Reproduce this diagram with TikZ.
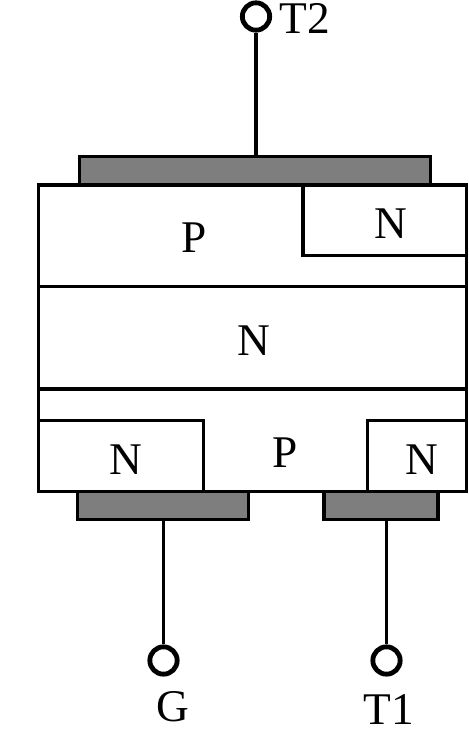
\documentclass[tikz,border=0pt]{standalone}
\usepackage{fontspec}
\setmainfont{Liberation Serif}
\definecolor{metal}{RGB}{126,126,126}
\tikzset{
  px/.style={x=0.75pt,y=-0.75pt},
  wire/.style={line width=2.7pt,draw=black},
  region/.style={line width=2.5pt,draw=black,line join=miter},
  metalbar/.style={line width=2.5pt,draw=black,fill=metal},
  term/.style={circle,draw=black,line width=3.6pt,fill=white,minimum size=20.5pt,inner sep=0pt},
  lab/.style={font=\fontsize{34pt}{34pt}\selectfont,inner sep=0pt,text=black}
}
\begin{document}
\begin{tikzpicture}[px]
\useasboundingbox (0,0) rectangle (468,742);
\draw[metalbar] (79.5,156.5) rectangle (430.5,185);
\draw[metalbar] (77.5,491.5) rectangle (248.5,519.5);
\draw[metalbar] (324,491.5) rectangle (438,519.5);
\draw[region] (38.5,185) rectangle (466.5,491.5);
\draw[region] (38.5,286.7) -- (466.5,286.7);
\draw[region] (38.5,389) -- (466.5,389);
\draw[region] (303,185) -- (303,255.7) -- (466.5,255.7);
\draw[region] (38.5,420.7) -- (203.3,420.7) -- (203.3,491.5);
\draw[region] (466.5,420.7) -- (367.3,420.7) -- (367.3,491.5);
\node[term] (t2) at (256,16.5) {};
\node[term] (g) at (163.5,660.5) {};
\node[term] (t1) at (386.5,660.5) {};
\coordinate (t2c) at (256,156.5);
\coordinate (gc) at (163.5,519.5);
\coordinate (t1c) at (386.5,519.5);
\draw[wire] (t2) -- (t2c);
\draw[wire] (g) -- (gc);
\draw[wire] (t1) -- (t1c);
\node[lab] (lt2) at (305,18.5) {T2};
\node[lab] (lp1) at (194,238) {P};
\node[lab] (ln1) at (391,224) {N};
\node[lab] (ln2) at (254,341) {N};
\node[lab] (ln3) at (126,460) {N};
\node[lab] (lp2) at (285.5,453) {P};
\node[lab] (ln4) at (422,460) {N};
\node[lab] (lg) at (172.5,707) {G};
\node[lab] (lt1) at (388.5,710) {T1};
\end{tikzpicture}
\end{document}
